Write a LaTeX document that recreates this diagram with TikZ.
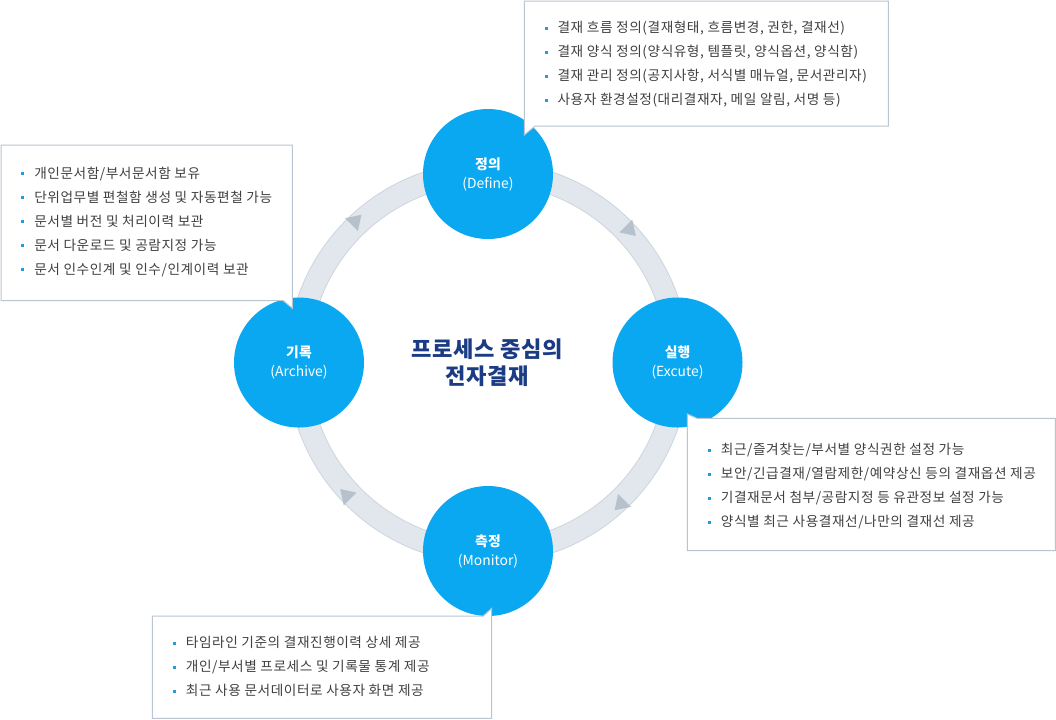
\documentclass[tikz,border=0pt]{standalone}
\usepackage{fontspec}
\setmainfont{Noto Sans CJK KR}
\newfontfamily\krls[LetterSpace=4]{Noto Sans CJK KR}
\newfontfamily\krtitle[LetterSpace=3]{Noto Sans CJK KR}
\usetikzlibrary{calc}
\definecolor{circc}{HTML}{0AA8F0}
\definecolor{ringf}{HTML}{E1E7ED}
\definecolor{ringd}{HTML}{CDD5DD}
\definecolor{tric}{HTML}{B6C1CC}
\definecolor{boxd}{HTML}{B9C5D1}
\definecolor{txt}{HTML}{404040}
\definecolor{bulc}{HTML}{1E9CE6}
\definecolor{titlec}{HTML}{1B3C85}
\newcommand{\bul}{{\color{bulc}\rule[2.1pt]{2.25pt}{2.25pt}}\hspace{7.4pt}}
\begin{document}
\begin{tikzpicture}[x=0.75pt,y=-0.75pt,
  circ/.style={circle,fill=circc,minimum size=97.5pt,inner sep=0pt,text=white,align=center,font=\fontsize{10.4pt}{14.25pt}\selectfont},
  callout/.style={fill=white,draw=boxd,line width=0.75pt},
  itemlist/.style={anchor=base west,align=left,inner sep=0pt,text=txt,font=\krls\fontsize{10.25pt}{18pt}\selectfont},
  ringband/.style={fill=ringf,draw=ringd,line width=0.6pt,even odd rule},
  tri/.style={fill=tric}]
\fill[white] (0,0) rectangle (1056,719);
\useasboundingbox (0,0) rectangle (1056,719);
\coordinate (C) at (488,362.5);
\path[ringband] (C) circle[radius=150.75pt] (C) circle[radius=134.25pt];
\foreach \a in {-45,-135,-225,-315}
  \fill[tri, rotate around={\a:(488,362.5)}] (489,177.5) -- (489,159.5) -- (503,168.5) -- cycle;
\node[circ] (define) at (488,174) {\textbf{정의}\\(Define)};
\node[circ] (excute) at (677.5,362.5) {\textbf{실행}\\(Excute)};
\node[circ] (monitor) at (488,551) {\textbf{측정}\\(Monitor)};
\node[circ] (archive) at (299,362.5) {\textbf{기록}\\(Archive)};
\node[text=titlec,font=\krtitle\bfseries\fontsize{16.6pt}{20.5pt}\selectfont,align=center] (title) at (487.5,363) {프로세스 중심의\\전자결재};
\draw[callout] (524.3,1) -- (888.3,1) -- (888.3,126) -- (535,126) -- (524.3,135) -- cycle;
\draw[callout] (1,145) -- (292.3,145) -- (292.3,308.3) -- (283.3,300.7) -- (1,300.7) -- cycle;
\draw[callout] (687.3,414) -- (697,418.3) -- (1055.3,418.3) -- (1055.3,550.7) -- (687.3,550.7) -- cycle;
\draw[callout] (152.3,616) -- (483.3,616) -- (491.7,608.3) -- (491.7,718.3) -- (152.3,718.3) -- cycle;
\node[itemlist] (definetext) at (544.5,104.5) {\bul 결재 흐름 정의(결재형태, 흐름변경, 권한, 결재선)\\
\bul 결재 양식 정의(양식유형, 템플릿, 양식옵션, 양식함)\\
\bul 결재 관리 정의(공지사항, 서식별 매뉴얼, 문서관리자)\\
\bul 사용자 환경설정(대리결재자, 메일 알림, 서명 등)};
\node[itemlist] (archivetext) at (21.2,274.1) {\bul 개인문서함/부서문서함 보유\\
\bul 단위업무별 편철함 생성 및 자동편철 가능\\
\bul 문서별 버전 및 처리이력 보관\\
\bul 문서 다운로드 및 공람지정 가능\\
\bul 문서 인수인계 및 인수/인계이력 보관};
\node[itemlist] (excutetext) at (707.8,526.7) {\bul 최근/즐겨찾는/부서별 양식권한 설정 가능\\
\bul 보안/긴급결재/열람제한/예약상신 등의 결재옵션 제공\\
\bul 기결재문서 첨부/공람지정 등 유관정보 설정 가능\\
\bul 양식별 최근 사용결재선/나만의 결재선 제공};
\node[itemlist] (monitortext) at (172.8,695.8) {\bul 타임라인 기준의 결재진행이력 상세 제공\\
\bul 개인/부서별 프로세스 및 기록물 통계 제공\\
\bul 최근 사용 문서데이터로 사용자 화면 제공};
\end{tikzpicture}
\end{document}
